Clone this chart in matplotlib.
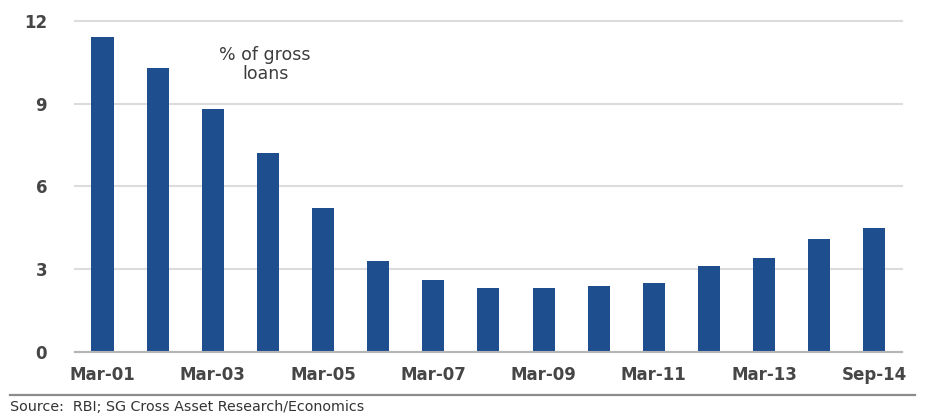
import matplotlib
matplotlib.use("Agg")
import matplotlib.pyplot as plt
from matplotlib.lines import Line2D

# Gross NPAs of Indian banks, % of gross loans
periods = ["Mar-01", "Mar-02", "Mar-03", "Mar-04", "Mar-05", "Mar-06", "Mar-07",
           "Mar-08", "Mar-09", "Mar-10", "Mar-11", "Mar-12", "Mar-13", "Mar-14",
           "Sep-14"]
npa_ratio = [11.4, 10.3, 8.8, 7.2, 5.2, 3.3, 2.6, 2.3, 2.3, 2.4, 2.5, 3.1, 3.4, 4.1, 4.5]
shown_labels = ["Mar-01", "Mar-03", "Mar-05", "Mar-07", "Mar-09", "Mar-11", "Mar-13", "Sep-14"]
y_ticks = [0, 3, 6, 9, 12]

bar_color = "#1f4e8f"
text_color = "#464646"

plt.rcParams["font.family"] = ["DejaVu Sans"]

fig = plt.figure(figsize=(9.25, 4.15), dpi=100)
ax = fig.add_axes([0.081, 0.152, 0.894, 0.798])

x = list(range(len(periods)))
ax.bar(x, npa_ratio, width=0.4, color=bar_color, zorder=3)

ax.set_xlim(-0.5, len(periods) - 0.5)
ax.set_ylim(0, 12)
ax.set_yticks(y_ticks)
ax.set_yticklabels([str(v) for v in y_ticks], fontweight="bold")
ax.set_xticks([i for i, p in enumerate(periods) if p in shown_labels])
ax.set_xticklabels(shown_labels, fontweight="bold")

ax.grid(axis="y", color="#dcdcdc", linewidth=1.5, zorder=0)
for gl in ax.get_ygridlines():
    gl.set_clip_on(False)
ax.axhline(0, color="#b5b5b5", linewidth=1.5, zorder=4, clip_on=False)
for s in ax.spines.values():
    s.set_visible(False)
ax.tick_params(axis="both", length=0, labelsize=12, labelcolor=text_color)
ax.tick_params(axis="y", pad=20)
ax.tick_params(axis="x", pad=10)

ax.text(2.95, 10.42, "% of gross\nloans", ha="center", va="center",
        fontsize=12.5, color="#3c3c3c", linespacing=1.1, zorder=5)

# rule above the source note
fig.add_artist(Line2D([10 / 925, 915 / 925], [1 - 395 / 415] * 2,
                      color="#8c8c8c", linewidth=1.6))
fig.text(10 / 925, 1 - 407 / 415, "Source:  RBI; SG Cross Asset Research/Economics",
         ha="left", va="center", fontsize=10.3, color="#333333")

fig.savefig("out.png", dpi=100)
